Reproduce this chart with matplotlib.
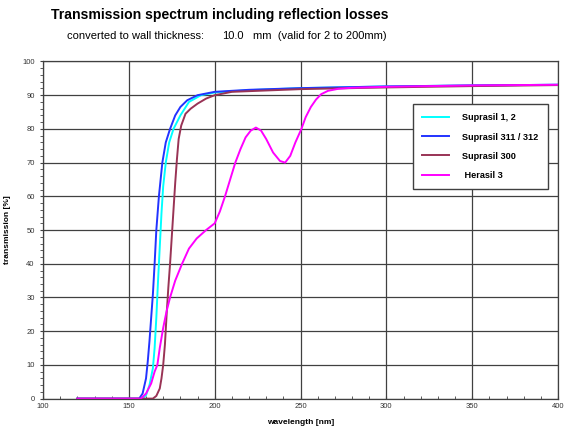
import matplotlib
matplotlib.use("Agg")
import matplotlib.pyplot as plt
from matplotlib.ticker import MultipleLocator

plt.rcParams['font.family'] = ['Liberation Sans', 'DejaVu Sans']

# Suprasil 1, 2
wl_s12 = [120, 158, 160, 162, 164, 165, 166, 167, 168, 169, 170, 171.5, 173.5, 176, 180, 185, 192, 200, 220, 250, 300, 350, 400]
t_s12 = [0, 0, 1, 4, 9, 15, 24, 35, 45, 55, 63, 70, 76, 80, 84, 88, 90, 90.8, 91.5, 92.1, 92.6, 92.9, 93.1]

# Suprasil 311 / 312
wl_s311 = [120, 156, 158, 160, 161, 162, 163, 164, 165, 166, 167.5, 169.5, 171.5, 174, 177, 180, 184, 190, 200, 220, 250, 300, 350, 400]
t_s311 = [0, 0, 1.5, 6, 11, 17, 24, 31, 40, 50, 60, 70, 76, 80, 84, 86.5, 88.5, 90, 91, 91.6, 92.1, 92.6, 92.9, 93.1]

# Suprasil 300
wl_s300 = [120, 164, 166, 168, 169, 170, 171, 172, 173, 174, 175, 176, 177, 178, 179, 180.5, 183, 186, 190, 195, 200, 210, 250, 300, 350, 400]
t_s300 = [0, 0, 0.8, 3, 6, 10, 16, 25, 33, 40, 48, 56, 64, 71, 77, 81, 84.5, 86, 87.5, 89, 90, 91, 91.8, 92.3, 92.7, 93.0]

# Herasil 3
wl_h3 = [120, 157, 160, 163, 165, 166.6, 168, 170, 172, 174, 177, 181, 185, 189.5, 195, 200, 203, 206, 209, 212,
         215, 218, 221, 224, 227, 230, 234, 238, 241, 244, 247, 250.5, 253, 256, 259, 262, 266, 272, 280, 300, 350, 400]
t_h3 = [0, 0, 1.5, 4.5, 8, 10, 15, 21, 26, 30, 35, 40, 44.5, 47.5, 50, 52, 55.5, 60, 65, 70,
        74, 77.5, 79.5, 80.4, 79.5, 77, 73, 70.5, 70, 72, 76, 80, 83.5, 86.5, 88.7, 90.3, 91.3, 91.9, 92.2, 92.5, 92.9, 93.1]

fig = plt.figure(figsize=(5.66, 4.30), dpi=100)
ax = fig.add_axes([0.076, 0.073, 0.910, 0.784])

ax.plot(wl_s12, t_s12, color="#00FFFF", lw=1.4, label="Suprasil 1, 2")
ax.plot(wl_s311, t_s311, color="#2233FF", lw=1.4, label="Suprasil 311 / 312")
ax.plot(wl_s300, t_s300, color="#993355", lw=1.4, label="Suprasil 300")
ax.plot(wl_h3, t_h3, color="#FF00FF", lw=1.4, label=" Herasil 3")

ax.set_xlim(100, 400)
ax.set_ylim(0, 100)
ax.xaxis.set_major_locator(MultipleLocator(50))
ax.xaxis.set_minor_locator(MultipleLocator(10))
ax.yaxis.set_major_locator(MultipleLocator(10))
ax.yaxis.set_minor_locator(MultipleLocator(2))
ax.grid(True, which="major", color="#404040", lw=0.9)
ax.set_axisbelow(True)
for s in ax.spines.values():
    s.set_color("#404040")
    s.set_linewidth(0.9)
ax.tick_params(axis="both", which="both", labelsize=5.5, labelcolor="#333333", color="#404040", length=2.5)
ax.tick_params(axis="x", which="both", direction="in")
ax.tick_params(axis="y", which="both", direction="out")

ax.set_xlabel("wavelength [nm]", fontsize=6, fontweight="bold", labelpad=6)
ax.set_ylabel("transmission [%]", fontsize=6, fontweight="bold", labelpad=8)

leg = ax.legend(loc="upper left", bbox_to_anchor=(0.718, 0.873), fontsize=6.6, frameon=True,
                fancybox=False, framealpha=1, edgecolor="#404040", handlelength=3.0,
                labelspacing=1.1, borderpad=1.0, handletextpad=1.4, borderaxespad=0)
for t in leg.get_texts():
    t.set_fontweight("bold")
leg.get_frame().set_linewidth(1.0)

fig.text(51 / 566, 1 - 15 / 430, "Transmission spectrum including reflection losses",
         fontsize=10.1, fontweight="bold", ha="left", va="center")
fig.text(67 / 566, 1 - 36 / 430, "converted to wall thickness:", fontsize=8, ha="left", va="center")
fig.text(222 / 566, 1 - 36 / 430, "10.0", fontsize=8, ha="left", va="center")
fig.text(253 / 566, 1 - 36 / 430, "mm  (valid for 2 to 200mm)", fontsize=8, ha="left", va="center")

fig.savefig("out.png", dpi=100)
